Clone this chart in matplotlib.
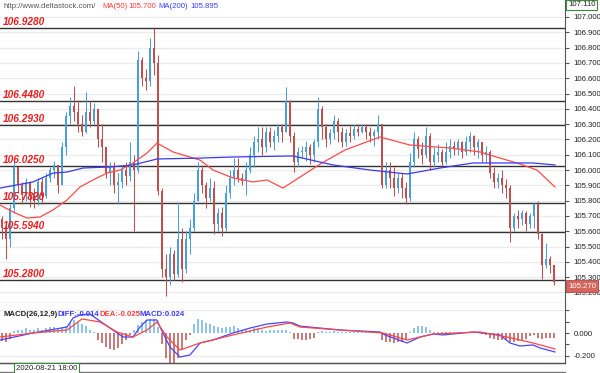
import numpy as np
import matplotlib.pyplot as plt
from matplotlib.lines import Line2D

# ---- price bars (one bar per 4 px of the original picture) ----
first_open = 105.68
closes = [
    105.62, 105.55, 105.75, 106.02, 105.90, 105.84, 105.92, 105.85, 105.80, 105.92,
    105.83, 105.95, 106.00, 106.03, 105.90, 106.15, 106.35, 106.42, 106.38, 106.30,
    106.25, 106.38, 106.32, 106.40, 106.20, 106.15, 105.98, 106.02, 105.90, 105.92,
    106.00, 105.96, 106.05, 106.00, 106.72, 106.60, 106.58, 106.80, 106.70, 105.86,
    105.35, 105.30, 105.45, 105.32, 105.55, 105.35, 105.55, 105.62, 105.80, 106.00,
    105.90, 105.82, 105.88, 105.65, 105.72, 105.62, 105.85, 105.95, 106.00, 105.95,
    105.93, 106.00, 106.10, 106.18, 106.20, 106.15, 106.25, 106.18, 106.22, 106.28,
    106.25, 106.45, 106.22, 106.05, 106.12, 106.12, 106.15, 106.10, 106.18, 106.40,
    106.28, 106.20, 106.24, 106.32, 106.25, 106.18, 106.24, 106.22, 106.27, 106.25,
    106.28, 106.25, 106.22, 106.25, 106.30, 105.90, 106.00, 105.95, 105.88, 105.95,
    105.88, 105.82, 106.05, 106.20, 106.14, 106.10, 106.22, 106.05, 106.10, 106.12,
    106.05, 106.12, 106.16, 106.14, 106.18, 106.12, 106.18, 106.22, 106.15, 106.18,
    106.10, 106.12, 105.98, 105.92, 105.95, 105.90, 105.88, 105.62, 105.70, 105.68,
    105.72, 105.65, 105.70, 105.78, 105.58, 105.38, 105.42, 105.38, 105.27,
]
highs = [
    105.70, 105.66, 105.78, 106.06, 106.00, 105.92, 105.95, 105.93, 105.88, 105.95,
    105.95, 105.98, 106.02, 106.06, 106.02, 106.18, 106.38, 106.48, 106.55, 106.46,
    106.36, 106.51, 106.45, 106.44, 106.40, 106.30, 106.15, 106.05, 106.05, 105.98,
    106.03, 106.05, 106.18, 106.10, 106.78, 106.74, 106.66, 106.86, 106.93, 106.75,
    105.88, 105.45, 105.50, 105.48, 105.79, 105.62, 105.60, 105.68, 105.85, 106.05,
    106.03, 105.92, 105.95, 105.93, 105.75, 105.76, 105.90, 106.00, 106.08, 106.08,
    105.98, 106.05, 106.15, 106.22, 106.28, 106.28, 106.28, 106.28, 106.26, 106.30,
    106.30, 106.54, 106.46, 106.25, 106.15, 106.16, 106.19, 106.17, 106.20, 106.48,
    106.42, 106.30, 106.27, 106.36, 106.34, 106.28, 106.27, 106.29, 106.30, 106.30,
    106.30, 106.30, 106.28, 106.27, 106.36, 106.30, 106.05, 106.05, 106.02, 105.98,
    105.98, 105.92, 106.11, 106.25, 106.22, 106.18, 106.28, 106.24, 106.15, 106.17,
    106.14, 106.18, 106.20, 106.19, 106.20, 106.19, 106.22, 106.25, 106.23, 106.20,
    106.18, 106.16, 106.13, 106.02, 105.98, 106.00, 105.94, 105.90, 105.72, 105.74,
    105.74, 105.73, 105.72, 105.79, 105.80, 105.59, 105.52, 105.44, 105.35,
]
lows = [
    105.55, 105.42, 105.50, 105.72, 105.85, 105.78, 105.80, 105.76, 105.75, 105.77,
    105.78, 105.82, 105.92, 105.95, 105.85, 105.90, 106.10, 106.30, 106.32, 106.25,
    106.22, 106.24, 106.28, 106.30, 106.15, 106.05, 105.95, 105.90, 105.85, 105.78,
    105.88, 105.90, 105.93, 105.60, 105.98, 106.55, 106.52, 106.55, 106.62, 105.84,
    105.30, 105.18, 105.25, 105.28, 105.30, 105.27, 105.33, 105.45, 105.60, 105.85,
    105.85, 105.75, 105.80, 105.58, 105.60, 105.57, 105.60, 105.82, 105.90, 105.92,
    105.90, 105.84, 105.98, 106.02, 106.12, 106.10, 106.12, 106.15, 106.13, 106.18,
    106.18, 106.25, 106.18, 105.99, 106.02, 106.08, 106.06, 106.04, 106.05, 106.15,
    106.20, 106.15, 106.17, 106.20, 106.18, 106.15, 106.16, 106.18, 106.20, 106.22,
    106.24, 106.20, 106.18, 106.16, 106.20, 105.88, 105.88, 105.88, 105.83, 105.85,
    105.82, 105.78, 105.80, 106.02, 106.08, 106.04, 106.08, 106.00, 106.02, 106.05,
    106.02, 106.04, 106.08, 106.10, 106.10, 106.08, 106.10, 106.12, 106.10, 106.08,
    106.05, 106.05, 105.95, 105.88, 105.88, 105.85, 105.82, 105.53, 105.60, 105.62,
    105.64, 105.60, 105.62, 105.62, 105.55, 105.29, 105.36, 105.33, 105.25,
]

# moving averages, read at a few bar positions
ma50_idx = [-0.5, 2.75, 6.25, 9.5, 12.75, 16.25, 19.5, 22.75, 26.25, 29.5, 32.75,
            36.25, 38.75, 42.75, 49.5, 52.75, 57.75, 62.75, 66.25, 70.25, 74.5,
            80, 85.75, 94.5, 102, 112, 119.5, 124.5, 128.75, 133.75, 138.25]
ma50_val = [105.771, 105.726, 105.686, 105.693, 105.739, 105.804, 105.889, 105.935,
            105.980, 106.000, 106.046, 106.111, 106.176, 106.118, 106.065, 106.000,
            105.948, 105.922, 105.935, 105.882, 105.954, 106.046, 106.131, 106.216,
            106.163, 106.144, 106.118, 106.078, 106.046, 106.000, 105.889]
ma200_idx = [-0.5, 7.75, 12.75, 16.25, 20.25, 27, 32.75, 38.75, 49.5, 57.75, 72.75,
             82.75, 92, 101.25, 109.5, 117.75, 132.75, 138.25]
ma200_val = [105.882, 105.922, 105.980, 105.987, 106.013, 106.020, 106.033, 106.072,
             106.078, 106.085, 106.092, 106.033, 106.000, 105.974, 106.013, 106.046,
             106.046, 106.033]

# horizontal support / resistance levels
levels = [106.928, 106.448, 106.293, 106.025, 105.782, 105.594, 105.280]

# MACD panel
macd_hist = [
    -0.07, -0.08, -0.05, 0.02, 0.03, 0.03, 0.04, 0.03, 0.03, 0.04,
    0.03, 0.04, 0.05, 0.05, 0.04, 0.05, 0.06, 0.09, 0.11, 0.10,
    0.08, 0.06, 0.03, 0.01, -0.06, -0.09, -0.12, -0.14, -0.15, -0.13,
    -0.10, -0.06, -0.02, 0.03, 0.07, 0.10, 0.11, 0.12, 0.12, 0.05,
    -0.10, -0.22, -0.26, -0.28, -0.22, -0.15, -0.06, -0.02, 0.08, 0.12,
    0.11, 0.09, 0.08, 0.06, 0.05, 0.04, 0.05, 0.05, 0.06, 0.04,
    0.03, 0.03, 0.03, 0.04, 0.04, 0.03, 0.02, 0.03, 0.03, 0.03,
    0.03, 0.03, 0.01, -0.05, -0.05, -0.06, -0.06, -0.05, -0.04, 0.01,
    0.02, 0.01, 0.01, 0.02, 0.01, 0.01, 0.01, 0.01, 0.01, 0.01,
    0.01, 0.01, 0.02, 0.01, 0.01, -0.06, -0.08, -0.08, -0.09, -0.08,
    -0.08, -0.06, 0.01, 0.04, 0.06, 0.06, 0.05, 0.03, 0.01, 0.01,
    0.01, 0.01, 0.01, 0.01, 0.01, 0.01, 0.01, 0.01, 0.01, 0.00,
    -0.01, -0.02, -0.04, -0.05, -0.06, -0.06, -0.06, -0.08, -0.08, -0.07,
    -0.06, -0.05, -0.03, -0.02, -0.04, -0.05, -0.04, -0.04, -0.04,
]
diff_idx = [-0.5, 2, 7.75, 16.25, 17.75, 19.5, 22, 23.75, 27, 30.25, 32.75, 34.5,
            36.25, 38.75, 39.5, 42, 44.5, 47, 49.5, 52.75, 57.75, 62, 66.25, 71.25,
            72.75, 74.5, 79.5, 84.5, 94.5, 95.75, 101.25, 104.5, 107.75, 110.25,
            117.75, 124.5, 127, 129.5, 132.75, 134.5, 138.25]
diff_val = [-0.061, -0.043, 0.0, 0.052, 0.13, 0.157, 0.165, 0.122, 0.043, -0.035,
            -0.035, 0.052, 0.113, 0.113, 0.052, -0.122, -0.209, -0.191, -0.087,
            -0.061, 0.0, 0.043, 0.078, 0.096, 0.087, 0.06, 0.043, 0.026, 0.009,
            -0.017, -0.087, -0.035, -0.009, -0.017, 0.009, -0.017, -0.087, -0.113,
            -0.104, -0.130, -0.165]
dea_idx = [-0.5, 7.75, 16.25, 20, 24.5, 28.75, 32.75, 36.25, 38.75, 41.25, 44.5,
           49.5, 57.75, 66.25, 72, 74.5, 84.5, 95.25, 101.25, 107.75, 119.5, 126.25,
           132.75, 138.25]
dea_val = [-0.035, 0.0, 0.026, 0.122, 0.096, 0.009, -0.035, 0.026, 0.096, -0.035,
           -0.148, -0.087, -0.017, 0.052, 0.087, 0.052, 0.026, 0.0, -0.061, -0.009,
           0.009, -0.035, -0.087, -0.139]

W, H = 600, 373
FONT = 'Liberation Sans'
UP, DOWN = '#4a9fd8', '#c0504d'


def px_box(x0, y0, x1, y1):
    # pixel box measured from the top-left corner -> figure rect
    return [x0 / W, 1 - y1 / H, (x1 - x0) / W, (y1 - y0) / H]


fig = plt.figure(figsize=(W / 100, H / 100), dpi=100)
ax = fig.add_axes(px_box(0, 0, 565, 303))
mx = fig.add_axes(px_box(0, 303, 565, 363))

# ---- candles ----
closes = np.array(closes)
opens = np.concatenate([[first_open], closes[:-1]])
idx = np.arange(len(closes))
hi = np.maximum(np.array(highs), np.maximum(opens, closes))
lo = np.minimum(np.array(lows), np.minimum(opens, closes))
colors = [UP if c >= o else DOWN for o, c in zip(opens, closes)]
body_lo = np.minimum(opens, closes)
body_h = np.maximum(np.abs(closes - opens), 0.006)

for lev in levels:
    ax.axhline(lev, color='#333333', lw=1.0, zorder=1)
    ax.annotate('%.4f' % lev, xy=(0, lev), xycoords=('axes fraction', 'data'),
                xytext=(3, 1), textcoords='offset pixels', va='bottom', ha='left',
                color='#ee1c1c', fontsize=7.3, fontweight='bold', fontstyle='italic',
                family=FONT, zorder=5)

ax.vlines(idx, lo, hi, colors=colors, lw=0.75, zorder=2)
ax.bar(idx, body_h, bottom=body_lo, width=0.68, color=colors, lw=0, zorder=3)
ax.plot(ma50_idx, ma50_val, color='#ff4a4a', lw=0.9, zorder=4)
ax.plot(ma200_idx, ma200_val, color='#3a3aee', lw=0.9, zorder=4)

ax.set_xlim(-0.5, 140.75)
ax.set_ylim(105.131, 107.111)
ax.yaxis.tick_right()
ax.set_yticks(np.round(np.arange(105.2, 107.01, 0.1), 1))
ax.set_yticklabels(['%.3f' % v for v in np.arange(105.2, 107.01, 0.1)])
ax.set_xticks([])
ax.grid(axis='y', color='#ececec', lw=1.0, zorder=0)
ax.set_axisbelow(True)
for s in ['top', 'left']:
    ax.spines[s].set_visible(False)
for s in ['right', 'bottom']:
    ax.spines[s].set_color('#555555')
ax.tick_params(axis='y', length=3, width=0.8, color='#555555', pad=3,
               labelsize=5.6, labelcolor='#222222')
for t in ax.get_yticklabels():
    t.set_family(FONT)

# ---- MACD ----
hcol = ['#6db3e3' if v >= 0 else '#b85450' for v in macd_hist]
mx.vlines(idx, 0, macd_hist, colors=hcol, lw=1.1, zorder=2)
mx.plot(diff_idx, diff_val, color='#4646ff', lw=0.9, zorder=3)
mx.plot(dea_idx, dea_val, color='#ff4646', lw=0.9, zorder=3)
mx.set_xlim(-0.5, 140.75)
mx.set_ylim(-0.261, 0.261)
mx.yaxis.tick_right()
mx.set_yticks([-0.2, 0.0])
mx.set_yticklabels(['-0.200', '0.000'])
mx.set_yticks([-0.1, 0.1, 0.2], minor=True)
mx.set_xticks([])
for g in [0.2, -0.2]:
    mx.axhline(g, color='#ececec', lw=1.0, zorder=0)
for s in ['top', 'left']:
    mx.spines[s].set_visible(False)
for s in ['right', 'bottom']:
    mx.spines[s].set_color('#555555')
mx.tick_params(axis='y', which='both', length=3, width=0.8, color='#555555', pad=3,
               labelsize=5.6, labelcolor='#222222')
for t in mx.get_yticklabels():
    t.set_family(FONT)

# ---- header texts ----
hy = 1 - 6 / H
fig.text(3 / W, hy, 'http://www.deltastock.com/', color='#555555', fontsize=5.6,
         family=FONT, va='center')
fig.text(102 / W, hy, 'MA(50)', color='#ff3b3b', fontsize=5.6, family=FONT, va='center')
fig.text(128 / W, hy, '105.700', color='#ff3b3b', fontsize=5.6, family=FONT, va='center')
fig.text(158 / W, hy, 'MA(200)', color='#3b3bff', fontsize=5.6, family=FONT, va='center')
fig.text(190 / W, hy, '105.895', color='#3b3bff', fontsize=5.6, family=FONT, va='center')

my = 1 - 315 / H
fig.text(3 / W, my, 'MACD(26,12,9)', color='#222222', fontsize=5.6, family=FONT,
         va='center', fontweight='bold')
fig.text(57 / W, my, 'DIFF:-0.014', color='#3b3bff', fontsize=5.6, family=FONT,
         va='center', fontweight='bold')
fig.text(99 / W, my, 'DEA:-0.025', color='#ff3b3b', fontsize=5.6, family=FONT,
         va='center', fontweight='bold')
fig.text(140 / W, my, 'MACD:0.024', color='#3b3bff', fontsize=5.6, family=FONT,
         va='center', fontweight='bold')

# price tags on the right axis
fig.text(568 / W, 1 - 5 / H, '107.110', color='#222222', fontsize=5.6, family=FONT,
         va='center', bbox=dict(boxstyle='square,pad=0.25', fc='white', ec='#3a8a3a', lw=0.8))
fig.text(568 / W, 1 - 286 / H, '105.270', color='white', fontsize=5.6, family=FONT,
         va='center', bbox=dict(boxstyle='square,pad=0.3', fc='#d4655f', ec='#b04a45', lw=0.6))

# bottom time strip
for yy, c in [(363, '#555555'), (372, '#777777')]:
    fig.add_artist(Line2D([0, 565 / W], [1 - yy / H] * 2, color=c, lw=1.0,
                          transform=fig.transFigure))
fig.text(16 / W, 1 - 368.5 / H, '2020-08-21 18:00', color='#222222', fontsize=5.6,
         family=FONT, va='center',
         bbox=dict(boxstyle='square,pad=0.2', fc='white', ec='#3a8a3a', lw=0.8))

fig.savefig('out.png', dpi=100)
